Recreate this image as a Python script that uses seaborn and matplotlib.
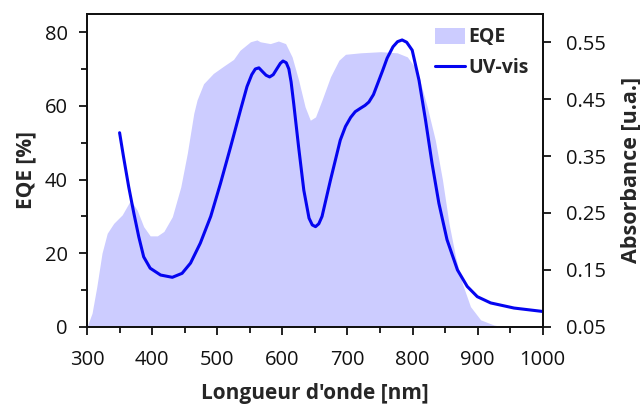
import numpy as np
import pandas as pd
import matplotlib
matplotlib.use("Agg")
import matplotlib.pyplot as plt
import seaborn as sns
from matplotlib.patches import Patch
from matplotlib.lines import Line2D

# EQE data (wavelength nm, %)
eqe_wl = [300, 307.7, 315, 323, 331, 341, 354, 367, 377, 387, 397, 408, 418, 431, 444, 454,
          464, 469, 479, 494, 510, 525, 535, 551, 561, 566, 581.5, 594, 605, 615, 625, 635,
          643, 651, 661, 674, 687, 697, 720, 751, 776.5, 792, 807, 822.6, 835, 846, 856,
          866, 876.5, 889, 904.6, 925, 940]
eqe_val = [0, 3.7, 10.9, 20, 25.4, 28.1, 30.4, 34.4, 31.7, 27.2, 24.7, 24.7, 25.9, 29.9,
           38, 47.1, 58, 61.6, 66, 68.8, 70.8, 72.6, 75.1, 77.4, 77.9, 77.4, 76.9, 77.6,
           76.9, 73.3, 67, 59.7, 56.1, 57, 61.6, 67.9, 72.4, 74, 74.4, 74.7, 74.4, 73.3,
           69.7, 59.7, 50.7, 39.9, 28.1, 19.1, 11.8, 5.5, 1.9, 0.5, 0]

# UV-vis absorbance data (wavelength nm, a.u.)
uv_wl = [350, 356, 364, 372, 379.5, 387, 397, 413, 431, 446, 459, 474, 490, 505, 520.5,
         536, 545.7, 553, 558.5, 564, 569, 575, 580.5, 586, 592, 597, 601, 606, 610, 613.5,
         617.5, 625, 633, 641, 646, 651, 656, 661, 674, 689, 697, 705, 712, 720, 727, 733,
         740, 746, 754, 761, 770, 777, 784, 791, 799.5, 810, 820, 830, 840.5, 853, 869,
         884, 899.5, 920, 956, 1000]
uv_val = [0.391, 0.349, 0.296, 0.249, 0.208, 0.173, 0.153, 0.141, 0.137, 0.144, 0.162,
          0.197, 0.244, 0.302, 0.366, 0.432, 0.472, 0.493, 0.503, 0.505, 0.499, 0.492,
          0.489, 0.493, 0.504, 0.513, 0.517, 0.514, 0.503, 0.480, 0.442, 0.366, 0.290,
          0.241, 0.229, 0.226, 0.231, 0.244, 0.308, 0.378, 0.402, 0.418, 0.428, 0.434,
          0.439, 0.445, 0.458, 0.476, 0.500, 0.522, 0.542, 0.551, 0.554, 0.550, 0.536,
          0.483, 0.413, 0.337, 0.267, 0.203, 0.150, 0.121, 0.103, 0.092, 0.083, 0.077]

x_ticks = [300, 400, 500, 600, 700, 800, 900, 1000]
left_ticks = [0, 20, 40, 60, 80]
right_ticks = [0.05, 0.15, 0.25, 0.35, 0.45, 0.55]

sns.set_style("ticks")
plt.rcParams['font.family'] = ['Open Sans', 'DejaVu Sans']

fig = plt.figure(figsize=(6.4, 4.05), dpi=100)
ax = fig.add_axes([0.136, 0.193, 0.712, 0.773])

eqe_df = pd.DataFrame({"wl": eqe_wl, "eqe": eqe_val})
uv_df = pd.DataFrame({"wl": uv_wl, "abs": uv_val})

ax.fill_between(eqe_df["wl"], 0, eqe_df["eqe"], color="#ccccff", linewidth=0)
ax.set_xlim(300, 1000)
ax.set_ylim(0, 85)
ax.set_xticks(x_ticks)
ax.set_xticks(np.arange(350, 1000, 100), minor=True)
ax.set_yticks(left_ticks)
ax.set_yticks([10, 30, 50, 70], minor=True)

ax2 = ax.twinx()
sns.lineplot(data=uv_df, x="wl", y="abs", ax=ax2, color="#0505f0", linewidth=2.2)
ax2.set_ylim(0.05, 0.6)
ax2.set_yticks(right_ticks)
ax2.set_yticklabels([f"{t:.2f}" for t in right_ticks])
ax2.set_xlim(300, 1000)

for a in (ax, ax2):
    for s in a.spines.values():
        s.set_visible(True)
        s.set_color("#111111")
        s.set_linewidth(1.3)
    a.tick_params(which="major", length=6, width=1.3, color="#111111", labelsize=14.5, labelcolor="#111111")
    a.tick_params(which="minor", length=4, width=1.3, color="#111111")
ax.tick_params(axis="x", pad=11)
ax.tick_params(axis="y", pad=8)
ax2.tick_params(axis="y", pad=11)

ax.set_xlabel("Longueur d'onde [nm]", fontsize=15, fontweight="bold", labelpad=9)
ax.set_ylabel("EQE [%]", fontsize=15, fontweight="bold", labelpad=6)
ax2.set_ylabel("Absorbance [u.a.]", fontsize=15.5, fontweight="bold", labelpad=10)

handles = [Patch(facecolor="#ccccff", edgecolor="none"),
           Line2D([0], [0], color="#0505f0", linewidth=2.2)]
leg = ax2.legend(handles, ["EQE", "UV-vis"], loc="upper right", frameon=False,
                 prop={"weight": "bold", "size": 14}, handlelength=1.55, handleheight=0.9,
                 handletextpad=0.2, borderaxespad=0.3, labelspacing=0.55,
                 bbox_to_anchor=(1.0, 1.0))

fig.savefig("out.png", dpi=100)
